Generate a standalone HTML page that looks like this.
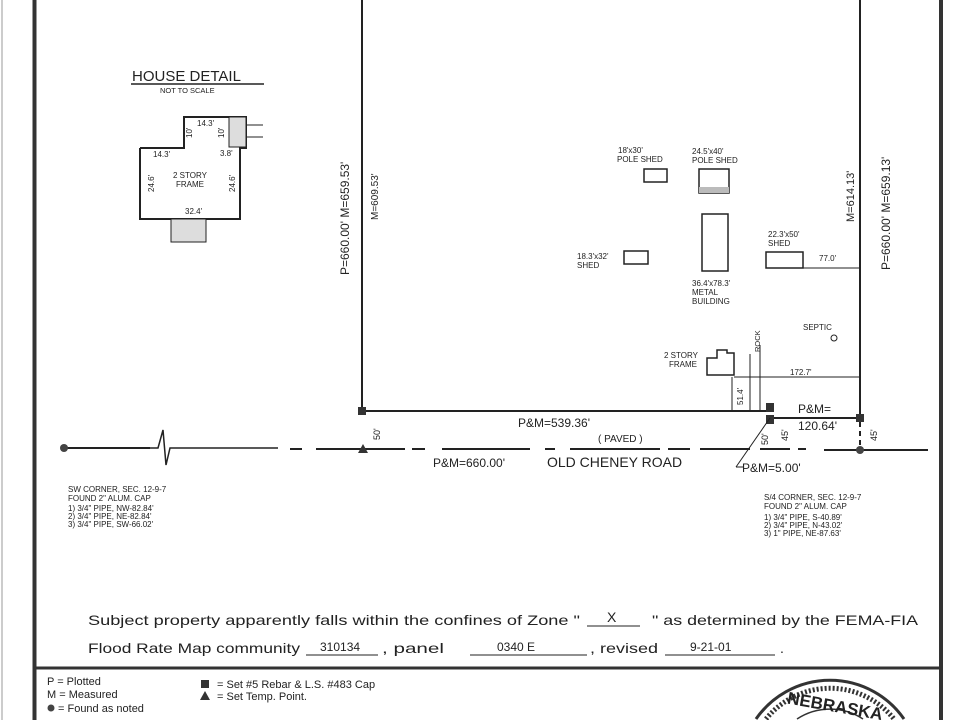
<!DOCTYPE html>
<html><head><meta charset="utf-8"><style>
html,body{margin:0;padding:0;background:#fff;width:960px;height:720px;overflow:hidden}
svg{display:block}
svg text{font-family:"Liberation Sans",sans-serif;fill:#222}
</style></head><body>
<svg width="960" height="720" viewBox="0 0 960 720" xmlns="http://www.w3.org/2000/svg">
<rect width="960" height="720" fill="#fff"/>
<line x1="34.5" y1="0" x2="34.5" y2="720" stroke="#333" stroke-width="4"/>
<line x1="941" y1="0" x2="941" y2="720" stroke="#333" stroke-width="4"/>
<line x1="34" y1="668" x2="941" y2="668" stroke="#333" stroke-width="3"/>
<line x1="2" y1="0" x2="2" y2="720" stroke="#999" stroke-width="1"/>

<text x="132" y="81" font-size="15">HOUSE DETAIL</text>
<line x1="131" y1="84" x2="264" y2="84" stroke="#222" stroke-width="1.5"/>
<text x="160" y="93" font-size="7.5">NOT TO SCALE</text>
<polyline points="140,148 184,148 184,117 246,117 246,148 240,148 240,219 140,219 140,148" fill="none" stroke="#222" stroke-width="2"/>
<rect x="229" y="117" width="17" height="30" fill="#ddd" stroke="#222"/>
<line x1="246" y1="125" x2="263" y2="125" stroke="#222"/><line x1="246" y1="137" x2="263" y2="137" stroke="#222"/>
<rect x="171" y="219" width="35" height="23" fill="#ddd" stroke="#222"/>
<g font-size="8"><text x="197" y="126">14.3'</text><text x="153" y="157">14.3'</text><text x="220" y="156">3.8'</text>
<text x="173" y="178">2 STORY</text><text x="176" y="187">FRAME</text><text x="185" y="214">32.4'</text></g>
<text font-size="8" transform="translate(154,192) rotate(-90)">24.6'</text>
<text font-size="8" transform="translate(235,192) rotate(-90)">24.6'</text>
<text font-size="8" transform="translate(192,138) rotate(-90)">10'</text>
<text font-size="8" transform="translate(224,138) rotate(-90)">10'</text>

<line x1="362" y1="0" x2="362" y2="411" stroke="#222" stroke-width="2"/>
<line x1="860" y1="0" x2="860" y2="418" stroke="#222" stroke-width="2"/>
<line x1="362" y1="411" x2="766" y2="411" stroke="#222" stroke-width="2"/>
<line x1="770" y1="418" x2="860" y2="418" stroke="#222" stroke-width="2"/>
<rect x="358" y="407" width="8" height="8" fill="#333"/>
<rect x="766" y="403" width="8" height="9" fill="#333"/>
<rect x="766" y="415" width="8" height="9" fill="#333"/>
<rect x="856" y="414" width="8" height="8" fill="#333"/>
<text font-size="12" transform="translate(349,275) rotate(-90)">P=660.00'  M=659.53'</text>
<text font-size="10" transform="translate(378,220) rotate(-90)">M=609.53'</text>
<text font-size="12" transform="translate(890,270) rotate(-90)">P=660.00'  M=659.13'</text>
<text font-size="11" transform="translate(854,222) rotate(-90)">M=614.13'</text>

<g font-size="8">
<text x="618" y="153">18'x30'</text><text x="617" y="162">POLE SHED</text>
<rect x="644" y="169" width="23" height="13" fill="none" stroke="#222" stroke-width="1.5"/>
<text x="692" y="154">24.5'x40'</text><text x="692" y="163">POLE SHED</text>
<rect x="699" y="169" width="30" height="24" fill="none" stroke="#222" stroke-width="1.5"/>
<rect x="699" y="187" width="30" height="6" fill="#bbb"/>
<rect x="702" y="214" width="26" height="57" fill="none" stroke="#222" stroke-width="1.5"/>
<text x="692" y="286">36.4'x78.3'</text><text x="692" y="295">METAL</text><text x="692" y="304">BUILDING</text>
<text x="577" y="259">18.3'x32'</text><text x="577" y="268">SHED</text>
<rect x="624" y="251" width="24" height="13" fill="none" stroke="#222" stroke-width="1.5"/>
<text x="768" y="237">22.3'x50'</text><text x="768" y="246">SHED</text>
<rect x="766" y="252" width="37" height="16" fill="none" stroke="#222" stroke-width="1.5"/>
<text x="819" y="261">77.0'</text>
<text x="803" y="330">SEPTIC</text>
<text x="664" y="358">2 STORY</text><text x="669" y="367">FRAME</text>
<text x="790" y="375">172.7'</text>
</g>
<line x1="803" y1="268" x2="860" y2="268" stroke="#222"/>
<circle cx="834" cy="338" r="3" fill="none" stroke="#222"/>
<polyline points="717,351 717,350 727,350 727,353 734,353 734,375 707,375 707,358 717,358 717,351" fill="none" stroke="#222" stroke-width="1.5"/>
<line x1="734" y1="377" x2="860" y2="377" stroke="#222"/>
<line x1="732" y1="377" x2="732" y2="411" stroke="#222"/>
<line x1="750" y1="354" x2="750" y2="411" stroke="#222"/>
<line x1="760" y1="345" x2="760" y2="411" stroke="#222"/>
<text font-size="7.5" transform="translate(760,352) rotate(-90)">ROCK</text>
<text font-size="8" transform="translate(743,405) rotate(-90)">51.4'</text>
<text x="798" y="413" font-size="12">P&amp;M=</text>
<text x="798" y="430" font-size="12">120.64'</text>
<text x="518" y="427" font-size="12">P&amp;M=539.36'</text>
<text x="598" y="442" font-size="10">( PAVED )</text>
<text font-size="9" transform="translate(380,440) rotate(-90)">50'</text>
<text font-size="9" transform="translate(768,445) rotate(-90)">50'</text>
<text font-size="9" transform="translate(788,441) rotate(-90)">45'</text>
<text font-size="9" transform="translate(877,441) rotate(-90)">45'</text>

<g stroke="#222" stroke-width="2">
<line x1="64" y1="448" x2="150" y2="448"/>
<polyline points="150,448 158,448 163,430 166,465 170,448 278,448" fill="none" stroke-width="1.5"/>
<line x1="290" y1="449" x2="302" y2="449"/><line x1="316" y1="449" x2="405" y2="449"/>
<line x1="412" y1="449" x2="425" y2="449"/><line x1="442" y1="449" x2="530" y2="449"/>
<line x1="545" y1="449" x2="555" y2="449"/><line x1="570" y1="449" x2="660" y2="449"/>
<line x1="668" y1="449" x2="690" y2="449"/><line x1="700" y1="449" x2="750" y2="449"/>
<line x1="760" y1="449" x2="790" y2="449"/><line x1="798" y1="449" x2="806" y2="449"/>
<line x1="824" y1="450" x2="928" y2="450"/>
<line x1="860" y1="422" x2="860" y2="450" stroke-dasharray="5,4"/>
</g>
<circle cx="64" cy="448" r="4" fill="#444"/>
<circle cx="860" cy="450" r="4" fill="#444"/>
<polygon points="363,444 358,453 368,453" fill="#333"/>
<line x1="770" y1="418" x2="736" y2="467" stroke="#222"/>
<line x1="736" y1="467" x2="744" y2="467" stroke="#222"/>
<text x="433" y="467" font-size="12">P&amp;M=660.00'</text>
<text x="547" y="467" font-size="14">OLD CHENEY ROAD</text>
<text x="742" y="472" font-size="12">P&amp;M=5.00'</text>

<g font-size="8">
<text x="68" y="492">SW CORNER, SEC. 12-9-7</text><text x="68" y="501">FOUND 2" ALUM. CAP</text>
<text x="68" y="511">1) 3/4" PIPE, NW-82.84'</text><text x="68" y="519">2) 3/4" PIPE, NE-82.84'</text><text x="68" y="527">3) 3/4" PIPE, SW-66.02'</text>
<text x="764" y="500">S/4 CORNER, SEC. 12-9-7</text><text x="764" y="509">FOUND 2" ALUM. CAP</text>
<text x="764" y="520">1) 3/4" PIPE, S-40.89'</text><text x="764" y="528">2) 3/4" PIPE, N-43.02'</text><text x="764" y="536">3) 1" PIPE, NE-87.63'</text>
</g>

<g font-size="14">
<text x="88" y="625" textLength="492" lengthAdjust="spacingAndGlyphs">Subject property apparently falls within the confines of Zone "</text>
<text x="607" y="622">X</text><line x1="587" y1="626" x2="640" y2="626" stroke="#222"/>
<text x="652" y="625" textLength="266" lengthAdjust="spacingAndGlyphs">" as determined by the FEMA-FIA</text>
<text x="88" y="653" textLength="212" lengthAdjust="spacingAndGlyphs">Flood Rate Map community</text>
<text x="320" y="651" font-size="12">310134</text><line x1="306" y1="655" x2="378" y2="655" stroke="#222"/>
<text x="382" y="653" textLength="62" lengthAdjust="spacingAndGlyphs">, panel</text>
<text x="497" y="651" font-size="12">0340 E</text><line x1="470" y1="655" x2="587" y2="655" stroke="#222"/>
<text x="590" y="653" textLength="68" lengthAdjust="spacingAndGlyphs">, revised</text>
<text x="690" y="651" font-size="12">9-21-01</text><line x1="665" y1="655" x2="775" y2="655" stroke="#222"/>
<text x="780" y="653">.</text>
</g>

<g font-size="11">
<text x="47" y="685">P  =  Plotted</text>
<text x="47" y="698">M  =  Measured</text>
<text x="58" y="712">=  Found as noted</text>
<text x="217" y="688">=  Set #5 Rebar &amp; L.S. #483 Cap</text>
<text x="217" y="700">=  Set Temp. Point.</text>
</g>
<circle cx="51" cy="708" r="3.5" fill="#444"/>
<rect x="201" y="680" width="8" height="8" fill="#333"/>
<polygon points="205,691 200,700 210,700" fill="#333"/>

<path d="M756 719 A90 90 0 0 1 904 719" fill="none" stroke="#333" stroke-width="3"/>
<path d="M766 719 A82 82 0 0 1 894 719" fill="none" stroke="#333" stroke-width="5" stroke-dasharray="2,2"/>
<path d="M797 719 A60 60 0 0 1 863 719" fill="none" stroke="#333" stroke-width="1.5"/>
<text x="786" y="711" font-size="17" font-weight="bold" transform="rotate(10 830 711)">NEBRASKA</text>
</svg>
</body></html>
